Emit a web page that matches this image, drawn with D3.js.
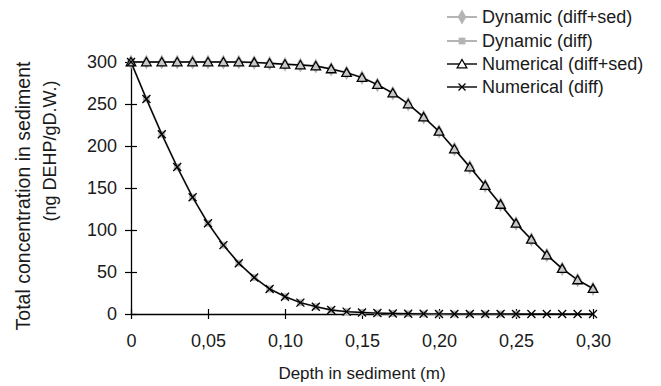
<!DOCTYPE html>
<html>
<head>
<meta charset="utf-8">
<script src="https://cdn.jsdelivr.net/npm/d3@7/dist/d3.min.js"></script>
<style>
  html, body { margin: 0; padding: 0; background: #fff; }
  svg { display: block; font-family: "Liberation Sans", Arial, Helvetica, sans-serif; }
</style>
</head>
<body>
<svg id="chart" width="661" height="386"></svg>
<script>
// ---- data ----
const depths = d3.range(0, 31).map(i => +(i * 0.01).toFixed(2));
const numericalDiffSed = [300, 300, 300, 300, 300, 300, 300, 300, 299.5, 298.5, 297.3, 296.4, 295.2, 291.7, 287.3, 281.5, 273, 263, 250, 234.4, 217.4, 196.4, 175, 152.8, 130.4, 107.8, 88.8, 70.2, 54, 40.5, 30.2];
const numericalDiff = [300, 256, 214, 175, 139, 108, 82, 60.5, 43.5, 29.8, 20.6, 13.5, 8.7, 4.8, 2.8, 1.8, 1.1, 0.6, 0.3, 0.2, 0.1, 0, 0, 0, 0, 0, 0, 0, 0, 0, 0];
const dynamicDiffSed = [300, 300, 300, 300, 300, 300, 300, 300, 299.5, 298.5, 297.3, 296.4, 295.2, 291.7, 287.3, 281.5, 273, 263, 250, 234.4, 217.4, 196.4, 175, 152.8, 130.4, 107.8, 88.8, 70.2, 54, 40.5, 30.2];
const dynamicDiff = [300, 256, 214, 175, 139, 108, 82, 60.5, 43.5, 29.8, 20.6, 13.5, 8.7, 4.8, 2.8, 1.8, 1.1, 0.6, 0.3, 0.2, 0.1, 0, 0, 0, 0, 0];
const xTicks = [0, 0.05, 0.10, 0.15, 0.20, 0.25, 0.30];
const xTickLabels = ["0", "0,05", "0,10", "0,15", "0,20", "0,25", "0,30"];
const yTicks = [0, 50, 100, 150, 200, 250, 300];
const legendLabels = ["Dynamic (diff+sed)", "Dynamic (diff)", "Numerical (diff+sed)", "Numerical (diff)"];

// ---- layout ----
const svg = d3.select("#chart");
const x = d3.scaleLinear().domain([0, 0.30]).range([131, 593]);
const y = d3.scaleLinear().domain([0, 300]).range([314, 62]);
const txt = "#1a1a1a";
const grey = "#b4b4b4";
const FONT = "Liberation Sans, Arial, sans-serif";

// axes
const xAxis = d3.axisBottom(x).tickValues(xTicks).tickSize(0).tickFormat((d, i) => xTickLabels[i]);
const gx = svg.append("g").attr("transform", `translate(0,${y(0)})`).call(xAxis);
gx.select(".domain").attr("stroke", "#000").attr("stroke-width", 1.3);
gx.selectAll(".tick").append("line").attr("y1", -5).attr("y2", 5).attr("stroke", "#000").attr("stroke-width", 1.2);
gx.selectAll(".tick text").attr("y", 20).attr("dy", "0.71em").attr("font-size", 18).attr("fill", txt).attr("font-family", FONT);

const yAxis = d3.axisLeft(y).tickValues(yTicks).tickSize(0).tickFormat(d3.format("d"));
const gy = svg.append("g").attr("transform", `translate(${x(0)},0)`).call(yAxis);
gy.select(".domain").attr("stroke", "#000").attr("stroke-width", 1.3);
gy.selectAll(".tick").append("line").attr("x1", -6).attr("x2", 6).attr("stroke", "#000").attr("stroke-width", 1.2);
gy.selectAll(".tick text").attr("x", -14).attr("font-size", 18).attr("fill", txt).attr("font-family", FONT);

// axis titles
svg.append("text").attr("x", 362).attr("y", 379).attr("text-anchor", "middle")
  .attr("font-size", 17).attr("fill", txt).text("Depth in sediment (m)");
const yt = svg.append("g").attr("transform", "rotate(-90)");
yt.append("text").attr("x", -196).attr("y", 30).attr("text-anchor", "middle")
  .attr("font-size", 19.5).attr("fill", txt).text("Total concentration in sediment");
yt.append("text").attr("x", -151).attr("y", 56).attr("text-anchor", "middle")
  .attr("font-size", 18).attr("fill", txt).text("(ng DEHP/gD.W.)");

// symbols
const diamond = d3.symbol().type(d3.symbolDiamond).size(64);
const square = d3.symbol().type(d3.symbolSquare).size(46);
const tri = d3.symbol().type(d3.symbolTriangle).size(40);
function cross(g, cx, cy, r) {
  g.append("path").attr("d", `M${cx - r},${cy - r}L${cx + r},${cy + r}M${cx - r},${cy + r}L${cx + r},${cy - r}`)
    .attr("stroke", "#000").attr("stroke-width", 1.3).attr("fill", "none");
}

const line = d3.line().x((d, i) => x(depths[i])).y(d => y(d));

// dynamic series (grey)
svg.append("path").datum(dynamicDiffSed).attr("d", line).attr("fill", "none").attr("stroke", grey).attr("stroke-width", 2);
svg.append("path").datum(dynamicDiff).attr("d", line).attr("fill", "none").attr("stroke", grey).attr("stroke-width", 2);
svg.append("g").selectAll("path").data(dynamicDiffSed).join("path")
  .attr("d", diamond).attr("transform", (d, i) => `translate(${x(depths[i])},${y(d)})`).attr("fill", grey);
svg.append("g").selectAll("path").data(dynamicDiff).join("path")
  .attr("d", square).attr("transform", (d, i) => `translate(${x(depths[i])},${y(d)})`).attr("fill", grey);

// numerical series (black)
svg.append("path").datum(numericalDiffSed).attr("d", line).attr("fill", "none").attr("stroke", "#000").attr("stroke-width", 1.4);
svg.append("path").datum(numericalDiff).attr("d", line).attr("fill", "none").attr("stroke", "#000").attr("stroke-width", 1.4);
svg.append("g").selectAll("path").data(numericalDiffSed).join("path")
  .attr("d", tri).attr("transform", (d, i) => `translate(${x(depths[i])},${y(d) + 1})`)
  .attr("fill", "#c8c8c8").attr("stroke", "#000").attr("stroke-width", 1.3);
const gc = svg.append("g");
numericalDiff.forEach((d, i) => cross(gc, x(depths[i]), y(d), 4));

// legend
const lg = svg.append("g");
const rows = [17, 41, 64, 87];
const lx0 = 447, lx1 = 477, mx = 462, tx = 482;
legendLabels.forEach((lab, i) => {
  const col = i < 2 ? grey : "#000";
  lg.append("line").attr("x1", lx0).attr("x2", lx1).attr("y1", rows[i]).attr("y2", rows[i])
    .attr("stroke", col).attr("stroke-width", i < 2 ? 2 : 1.4);
  if (i === 0) lg.append("path").attr("d", diamond).attr("transform", `translate(${mx},${rows[i]})`).attr("fill", grey);
  if (i === 1) lg.append("path").attr("d", square).attr("transform", `translate(${mx},${rows[i]})`).attr("fill", grey);
  if (i === 2) lg.append("path").attr("d", tri).attr("transform", `translate(${mx},${rows[i] + 1})`).attr("fill", "#fff").attr("stroke", "#000").attr("stroke-width", 1.3);
  if (i === 3) cross(lg, mx, rows[i], 3.5);
  lg.append("text").attr("x", tx).attr("y", rows[i]).attr("dy", "0.36em").attr("font-size", 18).attr("fill", txt).text(lab);
});
</script>
</body>
</html>
